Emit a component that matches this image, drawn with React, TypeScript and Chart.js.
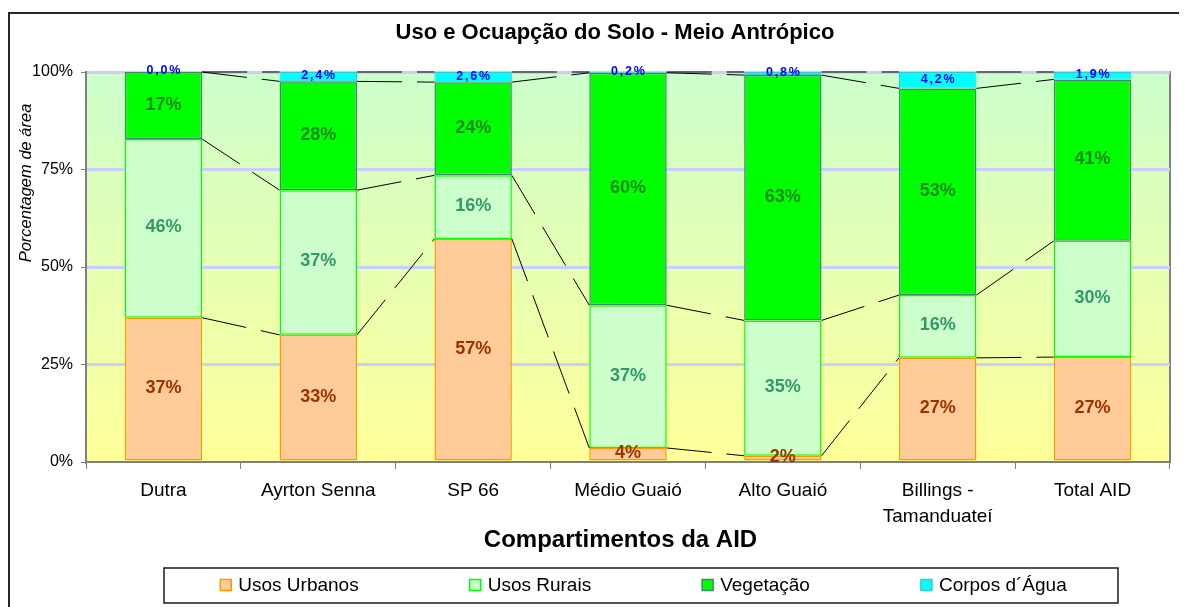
import React, { useEffect, useRef } from 'react';
import { Chart, registerables } from 'chart.js';

Chart.register(...registerables);

const FONT = "'Liberation Sans', Arial, Helvetica, sans-serif";

const categories: (string | string[])[] = [
  'Dutra',
  'Ayrton Senna',
  'SP 66',
  'Médio Guaió',
  'Alto Guaió',
  ['Billings -', 'Tamanduateí'],
  'Total AID',
];
const usosUrbanos = [37.0, 32.6, 57.2, 3.6, 1.6, 26.7, 26.9];
const usosRurais = [45.8, 37.1, 16.3, 36.6, 34.7, 16.1, 29.8];
const vegetacao = [17.2, 27.9, 23.9, 59.6, 62.9, 53.0, 41.4];
const corposDagua = [0.0, 2.4, 2.6, 0.2, 0.8, 4.2, 1.9];
const seriesNames = ['Usos Urbanos', 'Usos Rurais', 'Vegetação', 'Corpos d´Água'];
const yTickValues = [0, 25, 50, 75, 100];
const chartTitle = 'Uso e Ocuapção do Solo - Meio Antrópico';
const xAxisTitle = 'Compartimentos da AID';
const yAxisTitle = 'Porcentagem de área';

const fills = ['#ffcc99', '#ccffcc', '#00ff00', '#00ffff'];
const borders = ['#ff9900', '#00ff00', '#408868', '#33cccc'];
const labelColors = ['#993300', '#339966', '#1a8a1a', '#0000ff'];

const decorPlugin = {
  id: 'decor',
  beforeDraw(chart: any) {
    const { ctx, chartArea: a } = chart;
    ctx.save();
    const g = ctx.createLinearGradient(0, a.top, 0, a.bottom);
    g.addColorStop(0, '#ccffcc');
    g.addColorStop(1, '#ffff99');
    ctx.fillStyle = g;
    ctx.fillRect(a.left, a.top, a.right - a.left, a.bottom - a.top);
    ctx.strokeStyle = '#808080';
    ctx.lineWidth = 2;
    ctx.beginPath();
    ctx.moveTo(a.left, a.top);
    ctx.lineTo(a.right, a.top);
    ctx.lineTo(a.right, a.bottom);
    ctx.stroke();
    ctx.restore();
  },
  afterDatasetsDraw(chart: any) {
    const { ctx } = chart;
    ctx.save();
    // series lines
    ctx.strokeStyle = '#000';
    ctx.lineWidth = 1;
    ctx.setLineDash([45, 15]);
    chart.data.datasets.forEach((_ds: any, di: number) => {
      const meta = chart.getDatasetMeta(di);
      for (let i = 0; i < meta.data.length - 1; i++) {
        const p: any = meta.data[i];
        const q: any = meta.data[i + 1];
        ctx.beginPath();
        ctx.moveTo(p.x + p.width / 2, p.y);
        ctx.lineTo(q.x - q.width / 2, q.y);
        ctx.stroke();
      }
    });
    ctx.setLineDash([]);
    // data labels
    ctx.textAlign = 'center';
    ctx.textBaseline = 'middle';
    chart.data.datasets.forEach((ds: any, di: number) => {
      const meta = chart.getDatasetMeta(di);
      const isWater = di === 3;
      ctx.font = isWater ? `bold 12.5px ${FONT}` : `bold 18px ${FONT}`;
      (ctx as any).letterSpacing = isWater ? '1.8px' : '0px';
      ctx.fillStyle = labelColors[di];
      meta.data.forEach((el: any, i: number) => {
        const v = ds.data[i] as number;
        const txt = isWater ? v.toFixed(1).replace('.', ',') + '%' : Math.round(v) + '%';
        const cy = (el.y + el.base) / 2 - 1;
        ctx.fillText(txt, el.x + (isWater ? 0.9 : 0), cy);
      });
    });
    (ctx as any).letterSpacing = '0px';
    ctx.restore();
  },
  afterDraw(chart: any) {
    const { ctx, chartArea: a } = chart;
    ctx.save();
    ctx.fillStyle = '#000';
    // main title
    ctx.font = `bold 22px ${FONT}`;
    ctx.textAlign = 'center';
    ctx.textBaseline = 'alphabetic';
    ctx.fillText(chartTitle, a.left + 529, a.top - 32.7);
    // x axis title
    ctx.font = `bold 24px ${FONT}`;
    ctx.fillText(xAxisTitle, a.left + 534.5, a.bottom + 84.7);
    // y axis title
    ctx.save();
    ctx.translate(a.left - 55, a.top + 111);
    ctx.rotate(-Math.PI / 2);
    ctx.font = `italic 16.5px ${FONT}`;
    ctx.fillText(yAxisTitle, 0, 0);
    ctx.restore();
    // legend
    const boxL = a.left + 78;
    const boxT = a.bottom + 106;
    ctx.strokeStyle = '#1a1a1a';
    ctx.lineWidth = 1.5;
    ctx.strokeRect(boxL, boxT, 954, 35);
    ctx.font = `19px ${FONT}`;
    ctx.textAlign = 'left';
    const sw = 11;
    const gapBox = 7;
    const gapItem = 111;
    const ds = chart.data.datasets;
    const widths = ds.map((d: any) => sw + gapBox + ctx.measureText(d.label).width);
    const total = widths.reduce((s: number, w: number) => s + w, 0) + gapItem * (ds.length - 1);
    let x = a.left + 557.5 - total / 2;
    const base = a.bottom + 129;
    ds.forEach((d: any, i: number) => {
      ctx.fillStyle = d.backgroundColor;
      ctx.fillRect(x, base - 11.5, sw, sw);
      ctx.strokeStyle = d.borderColor;
      ctx.lineWidth = 1.5;
      ctx.strokeRect(x, base - 11.5, sw, sw);
      ctx.fillStyle = '#000';
      ctx.fillText(d.label, x + sw + gapBox, base);
      x += widths[i] + gapItem;
    });
    ctx.restore();
  },
};

export default function App() {
  const ref = useRef<HTMLCanvasElement | null>(null);

  useEffect(() => {
    if (!ref.current) return;
    Chart.defaults.font.family = FONT;
    Chart.defaults.color = '#000';
    const values = [usosUrbanos, usosRurais, vegetacao, corposDagua];
    const chart = new Chart(ref.current, {
      type: 'bar',
      data: {
        labels: categories as any,
        datasets: values.map((vals, i) => ({
          label: seriesNames[i],
          data: vals,
          backgroundColor: fills[i],
          borderColor: borders[i],
          borderWidth: i === 3 ? 1 : 1.5,
          borderSkipped: false,
          categoryPercentage: 1,
          barPercentage: 0.5,
        })),
      },
      options: {
        responsive: false,
        maintainAspectRatio: false,
        animation: false,
        devicePixelRatio: 1,
        events: [],
        layout: { padding: { top: 58, right: 30, bottom: 0, left: 0 } },
        plugins: {
          legend: { display: false },
          title: { display: false },
          tooltip: { enabled: false },
        },
        scales: {
          x: {
            stacked: true,
            offset: true,
            grid: {
              display: true,
              offset: true,
              drawOnChartArea: false,
              drawTicks: true,
              tickLength: 7,
              tickColor: '#808080',
              tickWidth: 1,
            },
            border: { color: '#808080', width: 2 },
            ticks: {
              color: '#000',
              font: { size: 19, lineHeight: 1.37 },
              padding: 9,
              maxRotation: 0,
              minRotation: 0,
              autoSkip: false,
            },
            afterFit: (s: any) => {
              s.height = 152;
            },
          },
          y: {
            stacked: true,
            min: 0,
            max: 100,
            afterBuildTicks: (s: any) => {
              s.ticks = yTickValues.map((v) => ({ value: v }));
            },
            grid: {
              color: (c: any) => (c.tick && c.tick.value === 0 ? 'rgba(0,0,0,0)' : '#ccccff'),
              lineWidth: 3,
              drawTicks: true,
              tickLength: 5,
              tickColor: '#808080',
              tickWidth: 1,
            },
            border: { color: '#808080', width: 2 },
            ticks: {
              color: '#000',
              font: { size: 16 },
              padding: 8,
              callback: (v: any) => `${v}%`,
            },
            afterFit: (s: any) => {
              s.width = 76;
            },
          },
        },
      },
      plugins: [decorPlugin],
    });
    return () => chart.destroy();
  }, []);

  return (
    <div style={{ position: 'relative', width: 1179, height: 599, overflow: 'hidden' }}>
      <div
        style={{
          position: 'absolute',
          left: 0,
          top: 4,
          width: 1300,
          height: 700,
          border: '2px solid #262626',
          boxSizing: 'content-box',
          background: '#fff',
        }}
      >
        <canvas ref={ref} width={1190} height={600} style={{ display: 'block', width: 1190, height: 600 }} />
      </div>
    </div>
  );
}
